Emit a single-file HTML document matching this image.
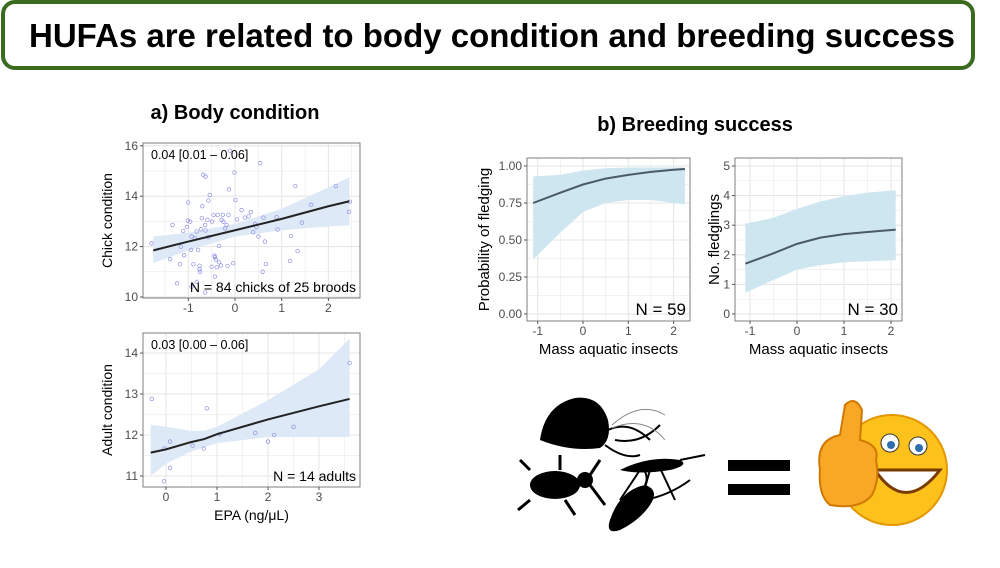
<!DOCTYPE html>
<html><head><meta charset="utf-8"><style>
body{margin:0;width:1000px;height:563px;background:#fff;overflow:hidden;font-family:"Liberation Sans",sans-serif}
svg text{font-family:"Liberation Sans",sans-serif}
</style></head><body>
<svg id="s" width="1000" height="563">
<rect x="3" y="2" width="970" height="66" rx="12" fill="#fff" stroke="#3b6b1f" stroke-width="4"/>
<text x="492" y="47" text-anchor="middle" font-size="33" font-weight="bold">HUFAs are related to body condition and breeding success</text>
<text x="235" y="119" text-anchor="middle" font-size="20" font-weight="bold">a) Body condition</text>
<text x="695" y="131" text-anchor="middle" font-size="20" font-weight="bold">b) Breeding success</text>
<g id="charts"></g>
<g fill="#000">
<path d="M540 440 Q545 405 575 398 Q600 395 608 420 Q612 440 600 448 Q570 452 540 440Z"/>
<path d="M608 430 Q630 420 650 440 M615 440 Q640 445 660 425 M605 445 Q625 460 640 455" stroke="#000" fill="none" stroke-width="2"/>
<path d="M612 425 Q640 400 665 415 M612 428 Q645 415 665 440" stroke="#888" fill="none" stroke-width="1"/>
<ellipse cx="555" cy="485" rx="25" ry="14"/>
<circle cx="585" cy="480" r="8"/>
<path d="M530 470 L520 460 M530 500 L518 510 M560 470 L560 455 M565 500 L575 515 M590 475 L600 460 M590 485 L605 505" stroke="#000" stroke-width="3" fill="none"/>
<path d="M620 470 Q650 455 680 460 Q690 465 670 470 Q640 475 620 470Z"/>
<path d="M640 470 L620 500 M650 470 L640 505 M660 468 L675 500 M680 460 L705 455" stroke="#000" stroke-width="2" fill="none"/>
<path d="M610 520 Q620 490 645 485 Q660 490 650 505 Q640 520 620 530 Q605 535 610 520Z"/>
<path d="M645 485 Q650 475 640 465 M645 500 Q670 495 690 480" stroke="#000" stroke-width="2" fill="none"/>
</g>
<g fill="#000">
<rect x="728" y="460" width="62" height="11"/><rect x="728" y="484" width="62" height="11"/>
</g>
<g>
<circle cx="892" cy="470" r="55" fill="#fcc21b" stroke="#e59600" stroke-width="2"/>
<circle cx="890" cy="443" r="9" fill="#fff" stroke="#333"/><circle cx="918" cy="446" r="9" fill="#fff" stroke="#333"/>
<circle cx="891" cy="445" r="4" fill="#2f6fb0"/><circle cx="919" cy="448" r="4" fill="#2f6fb0"/>
<path d="M875 470 Q905 515 940 470 Z" fill="#fff" stroke="#7a3b00" stroke-width="3"/>
<path d="M820 470 Q815 440 840 435 L845 405 Q855 395 862 410 L860 440 Q880 445 876 460 Q880 480 872 495 Q860 510 830 505 Q818 495 820 470Z" fill="#f9a825" stroke="#d07800" stroke-width="2"/>
</g>
</svg>
<script>
// ---- chart data ----
const chickX=[-1.79,-1.39,-1.34,-1.24,-1.16,-1.09,-1.0,-1.03,-1.01,-0.96,-0.93,-0.94,-0.86,-0.89,-0.82,-0.79,-0.76,-0.76,-0.75,-0.73,-0.71,-0.7,-0.68,-0.64,-0.63,-0.59,-0.57,-0.54,-0.5,-0.49,-0.44,-0.43,-0.41,-0.39,-0.37,-0.34,-0.3,-0.29,-0.26,-0.25,-0.21,-0.16,-0.14,-0.13,-0.11,-0.04,-0.01,0.01,0.04,0.21,0.29,0.34,0.39,0.43,0.46,0.5,0.54,0.59,0.61,0.64,0.66,0.89,0.91,1.18,1.2,1.29,1.34,1.43,1.63,2.16,2.44,2.46,-1.18,-0.93,-0.82,-0.64,-1.11,-0.46,-0.34,-0.57,0.14,-0.18,-0.43,-0.63];
const chickY=[12.13,11.5,12.86,10.54,12.0,11.66,13.75,12.78,13.03,12.99,12.4,11.87,12.33,11.3,12.6,11.87,11.24,11.1,11.0,12.69,13.13,13.6,14.85,12.86,12.64,13.06,13.83,14.05,11.2,12.99,11.64,11.58,11.48,11.18,13.26,11.38,11.25,13.06,13.26,12.99,12.72,11.23,13.26,14.27,15.81,11.34,14.94,13.85,13.08,13.15,13.2,13.37,12.57,12.9,12.77,12.4,15.31,11.0,13.15,12.2,11.31,13.17,12.68,11.43,12.42,14.4,11.82,12.95,13.66,14.4,13.38,13.78,11.3,10.41,10.6,10.18,12.62,13.26,12.03,12.37,13.45,12.86,10.81,14.78];
const chickRibX=[-1.75,-1,0,1,2,2.45];
const chickFit=[11.85,12.2,12.65,13.1,13.6,13.8];
const chickLo=[11.35,11.85,12.4,12.65,12.8,12.85];
const chickHi=[12.4,12.55,12.9,13.5,14.35,14.75];
const adultX=[-0.28,-0.04,-0.03,0.08,0.08,0.52,0.74,0.8,1.05,1.75,2.0,2.12,2.5,3.6];
const adultY=[12.88,10.87,11.67,11.84,11.2,11.74,11.67,12.65,12.02,12.05,11.84,12.0,12.2,13.76];
const adultRibX=[-0.3,0,0.5,0.75,1,2,3,3.6];
const adultFit=[11.57,11.65,11.83,11.9,12.02,12.38,12.7,12.88];
const adultLo=[11.0,11.3,11.6,11.7,11.8,11.95,11.95,11.95];
const adultHi=[12.25,12.2,12.1,12.1,12.2,12.85,13.6,14.35];
const probX=[-1.1,-0.5,0,0.5,1,1.5,2,2.25];
const probFit=[0.75,0.82,0.875,0.915,0.94,0.96,0.975,0.98];
const probLo=[0.37,0.55,0.69,0.75,0.77,0.77,0.75,0.74];
const probHi=[0.93,0.94,0.97,0.985,0.99,0.99,0.99,0.99];
const fledX=[-1.1,-0.5,0,0.5,1,1.5,2.1];
const fledFit=[1.7,2.05,2.37,2.58,2.7,2.77,2.85];
const fledLo=[0.72,1.15,1.5,1.65,1.75,1.78,1.82];
const fledHi=[3.05,3.25,3.55,3.8,3.98,4.1,4.18];
const chickYTicks=[10,12,14,16];const chickXTicks=[-1,0,1,2];
const adultYTicks=[11,12,13,14];const adultXTicks=[0,1,2,3];
const probYTicks=[0,0.25,0.5,0.75,1];const probYLabels=["0.00","0.25","0.50","0.75","1.00"];
const fledYTicks=[0,1,2,3,4,5];const massXTicks=[-1,0,1,2];

const NS="http://www.w3.org/2000/svg";
const root=document.getElementById('charts');
function mk(tag,attrs,parent){const e=document.createElementNS(NS,tag);for(const k in attrs)e.setAttribute(k,attrs[k]);(parent||root).appendChild(e);return e;}
function chart(o){
  const g=mk('g',{});
  
  
  const sx=v=>o.x0px+(v-o.x0v)*o.xs, sy=v=>o.y0px-(v-o.y0v)*o.ys;
  mk('rect',{x:o.L,y:o.T,width:o.R-o.L,height:o.B-o.T,fill:'#fff'},g);
  const xt=o.xt, yt=o.yt;
  const grid=[];
  xt.forEach((v,i)=>{grid.push(['x',v,1.1]); if(i<xt.length-1)grid.push(['x',(v+xt[i+1])/2,0.5]);});
  if(xt.length>1){grid.push(['x',xt[0]-(xt[1]-xt[0])/2,0.5]);grid.push(['x',xt[xt.length-1]+(xt[1]-xt[0])/2,0.5]);}
  yt.forEach((v,i)=>{grid.push(['y',v,1.1]); if(i<yt.length-1)grid.push(['y',(v+yt[i+1])/2,0.5]);});
  if(yt.length>1){grid.push(['y',yt[0]-(yt[1]-yt[0])/2,0.5]);grid.push(['y',yt[yt.length-1]+(yt[1]-yt[0])/2,0.5]);}
  grid.forEach(([d,v,w])=>{
    if(d==='x'){const p=sx(v);if(p>o.L&&p<o.R){const l=mk('line',{x1:p,x2:p,y1:o.T,y2:o.B,stroke:'#e6e6e6','stroke-width':w},g);}}
    else{const p=sy(v);if(p>o.T&&p<o.B){const l=mk('line',{x1:o.L,x2:o.R,y1:p,y2:p,stroke:'#e6e6e6','stroke-width':w},g);}}
  });
  let d='M'+o.rx.map((v,i)=>sx(v)+','+sy(o.hi[i])).join(' L');
  d+=' L'+o.rx.map((v,i)=>sx(v)+','+sy(o.lo[i])).reverse().join(' L')+'Z';
  const rb=mk('path',{d:d,fill:o.ribbon},g);
  
  
  if(o.px){o.px.forEach((v,i)=>{const c=mk('circle',{cx:sx(v),cy:sy(o.py[i]),r:1.8,fill:'none',stroke:'#8f8fe6','stroke-width':0.7},g);
    
    });}
  const ln=mk('polyline',{points:o.rx.map((v,i)=>sx(v)+','+sy(o.fit[i])).join(' '),fill:'none',stroke:o.lineColor,'stroke-width':2},g);
  
  
  mk('rect',{x:o.L,y:o.T,width:o.R-o.L,height:o.B-o.T,fill:'none',stroke:'#7f7f7f','stroke-width':1},g);
  xt.forEach(v=>{const p=sx(v);mk('line',{x1:p,x2:p,y1:o.B,y2:o.B+3,stroke:'#555'},g);
    const t=mk('text',{x:p,y:o.B+14,'text-anchor':'middle','font-size':o.tf,fill:'#4d4d4d'},g);t.textContent=String(v);
    
    });
  yt.forEach((v,i)=>{const p=sy(v);mk('line',{x1:o.L-3,x2:o.L,y1:p,y2:p,stroke:'#555'},g);
    const t=mk('text',{x:o.L-5,y:p+4,'text-anchor':'end','font-size':o.tf,fill:'#4d4d4d'},g);t.textContent=o.yl?o.yl[i]:v;
    
    });
  const yt2=mk('text',{x:0,y:0,'text-anchor':'middle','font-size':o.af,transform:`translate(${o.yTitleX},${(o.T+o.B)/2}) rotate(-90)`},g);yt2.textContent=o.ytitle;
  
  
  if(o.xtitle){const xt2=mk('text',{x:(o.L+o.R)/2,y:o.B+33,'text-anchor':'middle','font-size':o.af},g);xt2.textContent=o.xtitle;
    
    }
  if(o.est){const e=mk('text',{x:o.L+8,y:o.T+16,'font-size':12.5},g);e.textContent=o.est;
    
    }
  const n=mk('text',{x:o.R-4,y:o.B-6,'text-anchor':'end','font-size':o.nf},g);n.textContent=o.ntext;
  
  
  root.appendChild(g);
}
chart({name:'chick-condition-chart',L:143,R:360,T:143,B:298,x0v:0,x0px:235,xs:46.7,y0v:10,y0px:297,ys:25.2,xt:chickXTicks,yt:chickYTicks,
  rx:chickRibX,fit:chickFit,lo:chickLo,hi:chickHi,px:chickX,py:chickY,ribbon:'#dde9f6',lineColor:'#222',tf:12,af:14,nf:14,
  ytitle:'Chick condition',yTitleX:112,est:'0.04 [0.01 – 0.06]',ntext:'N = 84 chicks of 25 broods'});
chart({name:'adult-condition-chart',L:143,R:360,T:333,B:487,x0v:0,x0px:166,xs:51,y0v:11,y0px:476,ys:41,xt:adultXTicks,yt:adultYTicks,
  rx:adultRibX,fit:adultFit,lo:adultLo,hi:adultHi,px:adultX,py:adultY,ribbon:'#dde9f6',lineColor:'#222',tf:12,af:14,nf:14,
  ytitle:'Adult condition',yTitleX:112,xtitle:'EPA (ng/μL)',est:'0.03 [0.00 – 0.06]',ntext:'N = 14 adults'});
chart({name:'fledging-probability-chart',L:527,R:690,T:158,B:321,x0v:0,x0px:583,xs:45.3,y0v:0,y0px:314,ys:148,xt:massXTicks,yt:probYTicks,yl:probYLabels,
  rx:probX,fit:probFit,lo:probLo,hi:probHi,ribbon:'#cde6ef',lineColor:'#4a5a66',tf:12,af:15,nf:17,
  ytitle:'Probability of fledging',yTitleX:489,xtitle:'Mass aquatic insects',ntext:'N = 59'});
chart({name:'fledglings-count-chart',L:735,R:902,T:158,B:321,x0v:0,x0px:797,xs:47,y0v:0,y0px:314,ys:29.6,xt:massXTicks,yt:fledYTicks,
  rx:fledX,fit:fledFit,lo:fledLo,hi:fledHi,ribbon:'#cde6ef',lineColor:'#4a5a66',tf:12,af:15,nf:17,
  ytitle:'No. fledglings',yTitleX:719,xtitle:'Mass aquatic insects',ntext:'N = 30'});
</script>
</body></html>
